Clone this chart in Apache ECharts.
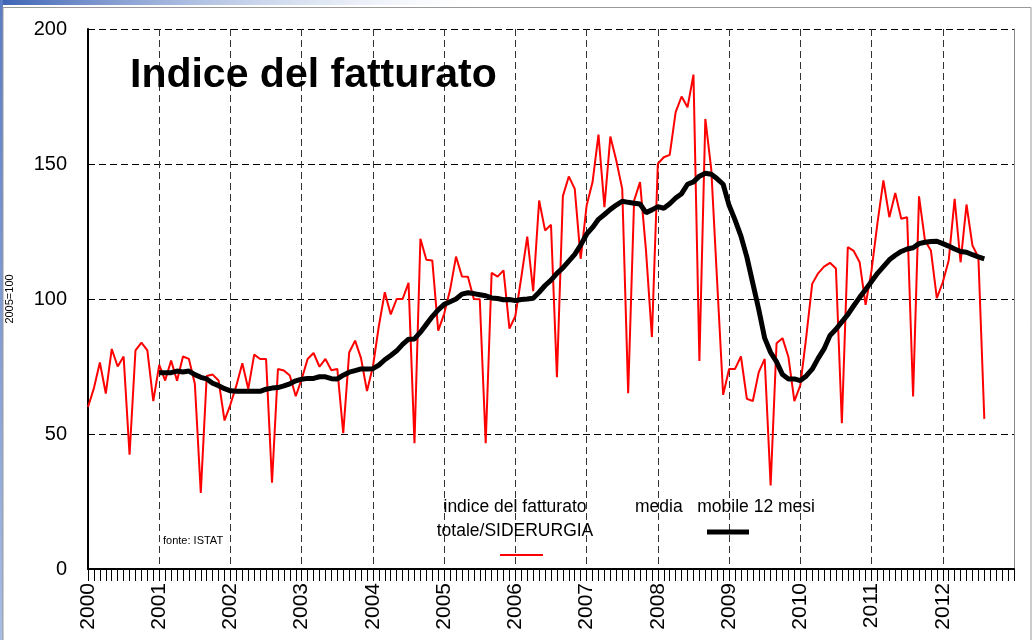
<!DOCTYPE html>
<html lang="it">
<head>
    <meta charset="UTF-8">
    <title>Indice del fatturato</title>
    <style>
        body { margin: 0; background: #fff; }
    </style>
</head>
<body>
<div id="main" style="width: 1034px;height:640px;"></div>
<script src="https://cdn.jsdelivr.net/npm/echarts@6/dist/echarts.min.js"></script>
<script type="text/javascript">
    // etichette anni (una ogni 12 mesi, gen 2000 = indice 0)
    var years = ['2000', '2001', '2002', '2003', '2004', '2005', '2006', '2007', '2008', '2009', '2010', '2011', '2012', ''];

    // indice del fatturato totale/SIDERURGIA, mensile da gen 2000 ad ago 2012
    var fatturato = [
        60, 67, 76.5, 65, 81.5, 75, 78.7, 42.3, 81, 83.8, 81, 62.2,
        75.6, 69.8, 77.2, 69.7, 78.7, 77.8, 68.6, 28.2, 71.5, 72, 69.8, 55,
        61, 68, 76.2, 66.7, 79.4, 77.8, 77.8, 32, 74.1, 73.5, 71.7, 64,
        70.4, 77.8, 80, 74.9, 77.8, 73.6, 74.1, 50.3, 80.2, 84.6, 78, 65.9,
        75, 90, 102.5, 94.3, 100, 100, 106, 46.6, 122.3, 114.5, 114.3, 88.3,
        94.5, 103.4, 115.7, 108.3, 108.2, 100, 99.9, 46.6, 109.7, 108.3, 110.6, 89,
        93.7, 108.1, 123.1, 102.9, 136.5, 125.4, 127.5, 71, 138.1, 145.4, 140.8, 114.9,
        134.6, 143.3, 160.9, 134, 160.2, 151.3, 140.8, 65.1, 136.5, 143.3, 118, 85.9,
        150.1, 152.5, 153.4, 169.2, 175, 171, 183.1, 77, 166.7, 148, 106, 64.5,
        74.1, 74.1, 78.7, 63, 62.2, 72.9, 77.8, 30.9, 83.6, 85.5, 78.5, 62.2,
        68, 86, 105.6, 109.5, 112, 113.4, 111.3, 54, 119.2, 117.8, 113.6, 97.8,
        110.6, 128.2, 143.9, 130.3, 139.3, 129.7, 130.3, 63.9, 138, 121.7, 118, 100.3,
        106.2, 114.3, 137.1, 113.6, 135, 119.8, 115.5, 55.6
    ];

    // media mobile 12 mesi, da gen 2001
    var mediaStart = 12;
    var media = [
        72.7, 72.7, 72.7, 73.3, 73, 73.3, 72, 71, 70.4, 68.8, 67.9, 66.8,
        66, 65.8, 65.8, 65.8, 65.8, 65.8, 66.6, 67, 67.2, 67.8, 68.6, 69.7,
        70.3, 70.6, 70.6, 71.2, 71.2, 70.5, 70.4, 71.8, 72.9, 73.5, 74.1, 74.1,
        74.2, 75.5, 77.5, 79.1, 80.8, 83.2, 85.1, 85.2, 87.7, 90.6, 93.5, 96,
        98, 99, 100, 101.8, 102.3, 102, 101.6, 101.2, 100.4, 100.2, 99.7, 99.8,
        99.4, 99.8, 100, 100.3, 102.5, 105, 107, 109.5, 111.5, 114, 116.5, 120,
        124, 126.5, 129.5, 131.3, 133.2, 134.8, 136.2, 135.8, 135.5, 135.2, 132, 133,
        134.2, 133.6, 135.3, 137.4, 139, 142.5, 143.4, 145.5, 146.6, 146.2, 144.5, 142.5,
        134.7, 129.3, 123.3, 115.5, 105.8, 96.1, 85.5, 80.2, 76.7, 72, 70.4, 70.4,
        69.8, 71.5, 74, 78, 81.5, 86.5, 88.8, 91.5, 94.2, 97.5, 100.6, 103.5,
        106.5, 109.5, 112, 114.5, 116.2, 117.6, 118.5, 119, 120.5, 121, 121.3, 121.4,
        120.5, 119.6, 118.5, 117.6, 117.3, 116.4, 115.6, 114.9
    ];

    var yTicks = [0, 50, 100, 150, 200];

    var redData = fatturato.map(function (v, i) { return [i, v]; });
    var blackData = media.map(function (v, i) { return [i + mediaStart, v]; });

    var font = 'Arial, "Liberation Sans", sans-serif';
    var dash = [7, 4];

    var mychart = echarts.init(document.getElementById('main'));
    var option = {
        backgroundColor: '#fff',
        animation: false,
        grid: { left: 88, right: 20, top: 29, bottom: 71, outerBoundsMode: 'none', containLabel: false },
        xAxis: {
            type: 'value',
            min: 0,
            max: (years.length - 1) * 12,
            interval: 12,
            axisLine: { show: true, onZero: false, lineStyle: { color: '#000', width: 2 } },
            axisTick: { show: true, length: 12, inside: false, lineStyle: { color: '#000', width: 1 } },
            minorTick: { show: true, splitNumber: 12, length: 12, lineStyle: { color: '#000', width: 1 } },
            axisLabel: {
                rotate: 90,
                margin: 14,
                fontSize: 21,
                fontFamily: font,
                color: '#000',
                formatter: function (v) { return years[v / 12]; }
            },
            splitLine: { show: true, lineStyle: { color: '#333', type: dash, width: 1 } }
        },
        yAxis: [{
            type: 'value',
            min: yTicks[0],
            max: yTicks[yTicks.length - 1],
            interval: 50,
            name: '2005=100',
            nameLocation: 'middle',
            nameRotate: 90,
            nameGap: 73,
            nameTextStyle: { fontSize: 11, fontFamily: font, color: '#000' },
            axisLine: { show: true, lineStyle: { color: '#000', width: 2 } },
            axisTick: { show: false },
            axisLabel: { margin: 21, fontSize: 20, fontFamily: font, color: '#000' },
            splitLine: { show: true, lineStyle: { color: '#000', type: dash, width: 1 } }
        }, {
            type: 'value',
            position: 'right',
            min: 0,
            max: 200,
            axisLine: { show: true, lineStyle: { color: '#888', width: 1 } },
            axisTick: { show: false },
            axisLabel: { show: false },
            splitLine: { show: false }
        }],
        series: [
            {
                name: 'indice del fatturato totale/SIDERURGIA',
                type: 'line',
                data: redData,
                showSymbol: false,
                lineStyle: { color: '#ff0000', width: 2 },
                z: 3
            },
            {
                name: 'media mobile 12 mesi',
                type: 'line',
                data: blackData,
                showSymbol: false,
                lineStyle: { color: '#000', width: 5 },
                z: 4
            }
        ],
        graphic: [
            {
                type: 'rect', left: 0, top: 0, z: 0,
                shape: { width: 470, height: 5 },
                style: {
                    fill: new echarts.graphic.LinearGradient(0, 0, 1, 0, [
                        { offset: 0, color: '#3d63b5' },
                        { offset: 1, color: 'rgba(200,215,240,0)' }
                    ])
                }
            },
            {
                type: 'rect', left: 0, top: 0, z: 0,
                shape: { width: 3, height: 640 },
                style: {
                    fill: new echarts.graphic.LinearGradient(0, 0, 0, 1, [
                        { offset: 0, color: '#5a7cc4' },
                        { offset: 1, color: '#a9bde3' }
                    ])
                }
            },
            {
                type: 'polyline', z: 0,
                shape: { points: [[3, 640], [3, 7.5], [1031, 7.5], [1031, 640]] },
                style: { stroke: '#999', lineWidth: 1, fill: null }
            },
            {
                type: 'text', x: 130, y: 76, z: 10,
                style: {
                    text: 'Indice del fatturato', fontSize: 41, fontWeight: 'bold',
                    fontFamily: font, fill: '#000', verticalAlign: 'middle'
                }
            },
            {
                type: 'text', x: 515, y: 507, z: 10,
                style: {
                    text: 'indice del fatturato', fontSize: 17.5, fontFamily: font,
                    fill: '#000', align: 'center', verticalAlign: 'middle'
                }
            },
            {
                type: 'text', x: 515, y: 531, z: 10,
                style: {
                    text: 'totale/SIDERURGIA', fontSize: 17.5, fontFamily: font,
                    fill: '#000', align: 'center', verticalAlign: 'middle'
                }
            },
            {
                type: 'line', z: 10,
                shape: { x1: 500, y1: 555, x2: 543, y2: 555 },
                style: { stroke: '#ff0000', lineWidth: 2 }
            },
            {
                type: 'text', x: 635, y: 507, z: 10,
                style: {
                    text: 'media   mobile 12 mesi', fontSize: 17.5, fontFamily: font,
                    fill: '#000', verticalAlign: 'middle'
                }
            },
            {
                type: 'line', z: 10,
                shape: { x1: 707, y1: 532, x2: 749, y2: 532 },
                style: { stroke: '#000', lineWidth: 5 }
            },
            {
                type: 'text', x: 163, y: 541, z: 10,
                style: {
                    text: 'fonte: ISTAT', fontSize: 11, fontFamily: font,
                    fill: '#000', verticalAlign: 'middle'
                }
            }
        ]
    };
    mychart.setOption(option);
</script>
</body>
</html>
